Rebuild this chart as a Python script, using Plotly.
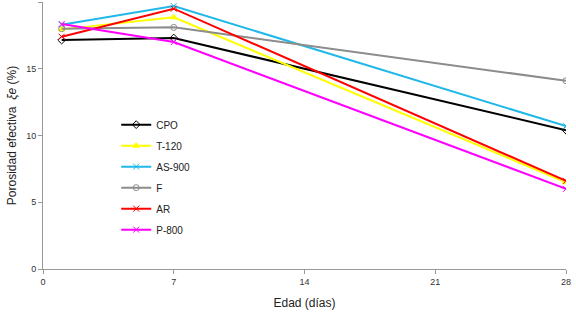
import plotly.graph_objects as go

days = [1, 7, 28]
series_names = ["CPO", "T-120", "AS-900", "F", "AR", "P-800"]
cpo = [17.15, 17.3, 10.4]
t120 = [17.95, 18.85, 6.5]
as900 = [18.3, 19.7, 10.7]
f_vals = [18.0, 18.1, 14.1]
ar = [17.4, 19.5, 6.6]
p800 = [18.35, 17.0, 6.0]
x_ticks = [0, 7, 14, 21, 28]
y_ticks = [0, 5, 10, 15, 20]

values = [cpo, t120, as900, f_vals, ar, p800]
colors = ["#000000", "#FFFF00", "#1FB8E8", "#8C8C8C", "#FF0000", "#FF00FF"]
symbols = ["diamond-open", "triangle-up", "x-thin-open", "circle-open", "x-thin-open", "x-thin-open"]

fig = go.Figure()
for name, vals, col, sym in zip(series_names, values, colors, symbols):
    fig.add_trace(go.Scatter(
        x=days, y=vals, name=name, legendgroup=name, mode="lines+markers",
        line=dict(color=col, width=2),
        marker=dict(symbol=sym, size=6, color=col, line=dict(color=col, width=1)),
    ))

fig.update_layout(
    width=576, height=314,
    margin=dict(l=43, r=10, t=2, b=45),
    paper_bgcolor="white", plot_bgcolor="white",
    font=dict(family="Liberation Sans, Arial", size=9, color="#333"),
    showlegend=True,
    legend=dict(x=0.14, y=0.595, xanchor="left", yanchor="top",
                bgcolor="rgba(0,0,0,0)", font=dict(size=10, color="#222"),
                tracegroupgap=2, itemwidth=30),
    xaxis=dict(range=[0, 28], tickvals=x_ticks, showgrid=False, zeroline=False,
               showline=True, linecolor="#999", linewidth=1, ticks="outside",
               tickcolor="#999", ticklen=4, tickfont=dict(size=9, color="#333"),
               title=dict(text="Edad (días)", font=dict(size=12, color="#222"), standoff=12)),
    yaxis=dict(range=[0, 20], tickvals=y_ticks, showgrid=False, zeroline=False,
               showline=True, linecolor="#999", linewidth=1, ticks="outside",
               tickcolor="#999", ticklen=4, tickfont=dict(size=9, color="#333"),
               title=dict(text="Porosidad efectiva  <i>ξe</i> (%)", font=dict(size=12, color="#222"), standoff=6)),
)

fig.write_html("out.html")
